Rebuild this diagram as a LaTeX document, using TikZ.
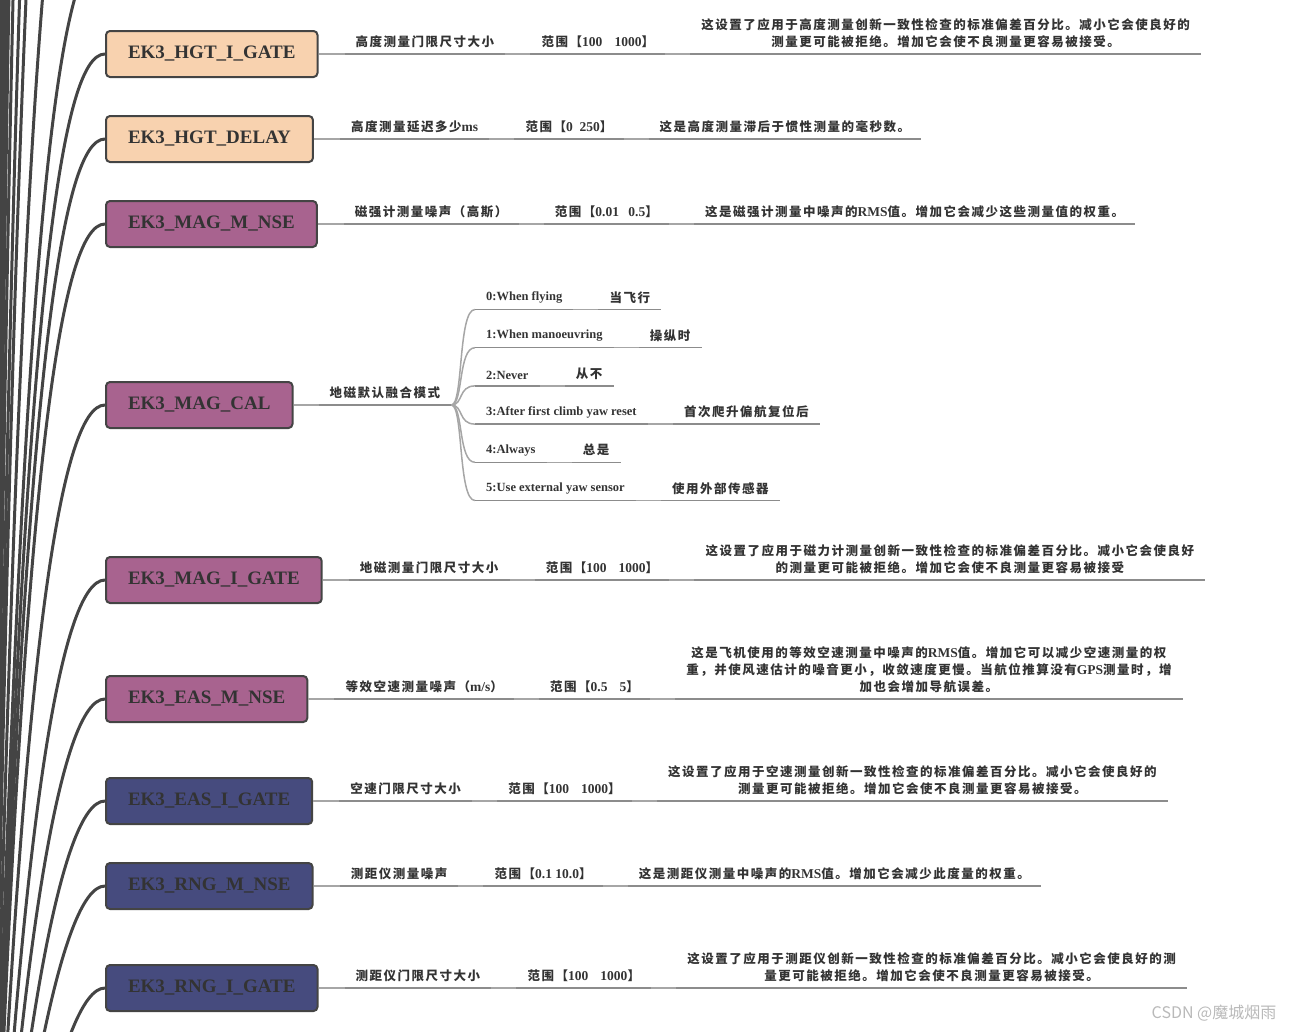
\documentclass[tikz,border=0pt]{standalone}
\usepackage{fontspec}
\setmainfont{Liberation Serif}
\newfontfamily\cjk[LetterSpace=12]{Noto Sans CJK SC}
\newfontfamily\cjkmark{Noto Sans CJK SC}
\newcommand{\lat}[1]{{\rmfamily\fontsize{13.5}{17}\selectfont #1}}
\usetikzlibrary{positioning}
\definecolor{peach}{HTML}{F8D2AF}
\definecolor{plum}{HTML}{A8638F}
\definecolor{navy}{HTML}{464B7E}
\definecolor{boxline}{HTML}{444444}
\definecolor{boxtext}{HTML}{333333}
\tikzset{
  box/.style = {draw=boxline, line width=2, rounded corners=4, minimum height=46, inner xsep=22, anchor=west, text=boxtext, font=\bfseries\fontsize{19}{21}\selectfont},
  leaf/.style = {inner xsep=11, inner ysep=6, align=center, anchor=south west, text=boxtext, font=\cjk\bfseries\fontsize{12.5}{17}\selectfont},
  sub/.style = {leaf, font=\bfseries\fontsize{12.5}{17}\selectfont},
  trunk/.style = {draw=boxline, line width=3},
  link/.style = {draw=gray!70, line width=1.5},
  uline/.style = {draw=gray!110!black, line width=1.5},
}
\newcommand{\param}[7]{\node[box, fill=#3] (#1) at (105,#2) {#4};
\draw[trunk] (root) .. controls (20,{#2+250}) and (60,#2) .. (#1.west);
\node[leaf] (#1a) at ([xshift=26]#1.east) {#5};
\node[leaf] (#1b) at ([xshift=25]#1a.south east) {#6};
\node[leaf] (#1c) at ([xshift=25]#1b.south east) {#7};
\draw[link] (#1.east) -- (#1a.south west) (#1a.south east) -- (#1b.south west) (#1b.south east) -- (#1c.south west);
\draw[uline] (#1a.south west) -- (#1a.south east) (#1b.south west) -- (#1b.south east) (#1c.south west) -- (#1c.south east);}

\begin{document}
\begin{tikzpicture}[x=1pt, y=-1pt]
\useasboundingbox (0,0) rectangle (1298,1031);
\coordinate (root) at (-10,1400);
\foreach \ty [count=\k] in {-50,-300,-650,-900,-1300,-1700,-2000,-2300,-2600,-3000,-3400,-3800,-4300,-5000,-6000,-8000}{
  \coordinate (up\k) at (105,\ty);
  \draw[trunk] (root) .. controls (20,{\ty+250}) and (60,\ty) .. (up\k);
}
\param{hgtgate}{54}{peach}{EK3\_HGT\_I\_GATE}{高度测量门限尺寸大小}{范围【\lat{100\hspace{0.9em}1000}】}{这设置了应用于高度测量创新一致性检查的标准偏差百分比。减小它会使良好的\\测量更可能被拒绝。增加它会使不良测量更容易被接受。}
\param{hgtdelay}{139}{peach}{EK3\_HGT\_DELAY}{高度测量延迟多少\lat{ms}}{范围【\lat{0\hspace{0.5em}250}】}{这是高度测量滞后于惯性测量的毫秒数。}
\param{magnse}{224}{plum}{EK3\_MAG\_M\_NSE}{磁强计测量噪声（高斯）}{范围【\lat{0.01\hspace{0.7em}0.5}】}{这是磁强计测量中噪声的\lat{RMS}值。增加它会减少这些测量值的权重。}
\param{maggate}{580}{plum}{EK3\_MAG\_I\_GATE}{地磁测量门限尺寸大小}{范围【\lat{100\hspace{0.9em}1000}】}{这设置了应用于磁力计测量创新一致性检查的标准偏差百分比。减小它会使良好\\的测量更可能被拒绝。增加它会使不良测量更容易被接受}
\param{easnse}{699}{plum}{EK3\_EAS\_M\_NSE}{等效空速测量噪声（\lat{m/s}）}{范围【\lat{0.5\hspace{0.9em}5}】}{这是飞机使用的等效空速测量中噪声的\lat{RMS}值。增加它可以减少空速测量的权\\重，并使风速估计的噪音更小，收敛速度更慢。当航位推算没有\lat{GPS}测量时，增\\加也会增加导航误差。}
\param{easgate}{801}{navy}{EK3\_EAS\_I\_GATE}{空速门限尺寸大小}{范围【\lat{100\hspace{0.9em}1000}】}{这设置了应用于空速测量创新一致性检查的标准偏差百分比。减小它会使良好的\\测量更可能被拒绝。增加它会使不良测量更容易被接受。}
\param{rngnse}{886}{navy}{EK3\_RNG\_M\_NSE}{测距仪测量噪声}{范围【\lat{0.1 10.0}】}{这是测距仪测量中噪声的\lat{RMS}值。增加它会减少此度量的权重。}
\param{rnggate}{988}{navy}{EK3\_RNG\_I\_GATE}{测距仪门限尺寸大小}{范围【\lat{100\hspace{0.9em}1000}】}{这设置了应用于测距仪创新一致性检查的标准偏差百分比。减小它会使良好的测\\量更可能被拒绝。增加它会使不良测量更容易被接受。}
\node[box, fill=plum] (magcal) at (105,405) {EK3\_MAG\_CAL};
\draw[trunk] (root) .. controls (20,655) and (60,405) .. (magcal.west);
\node[leaf] (cal) at ([xshift=25]magcal.east) {地磁默认融合模式};
\draw[link] (magcal.east) -- (cal.south west);
\draw[uline] (cal.south west) -- (cal.south east);
\foreach \en/\zhn [count=\i from 0] in {0:When flying/当飞行, 1:When manoeuvring/操纵时, 2:Never/从不, 3:After first climb yaw reset/首次爬升偏航复位后, 4:Always/总是, 5:Use external yaw sensor/使用外部传感器}{
  \node[sub] (mode\i) at (475,{405+(\i-2.5)*38.2}) {\en};
  \node[leaf] (modezh\i) at ([xshift=25]mode\i.south east) {\zhn};
  \draw[link] (cal.south east) .. controls +(12,0) and +(-17,0) .. (mode\i.south west);
  \draw[uline] (mode\i.south west) -- (mode\i.south east) (modezh\i.south west) -- (modezh\i.south east);
  \draw[link] (mode\i.south east) -- (modezh\i.south west);
}
\node[text=gray!55, font=\cjkmark\fontsize{16}{18}\selectfont] (mark) at (1214,1013) {CSDN @魔城烟雨};
\end{tikzpicture}
\end{document}
